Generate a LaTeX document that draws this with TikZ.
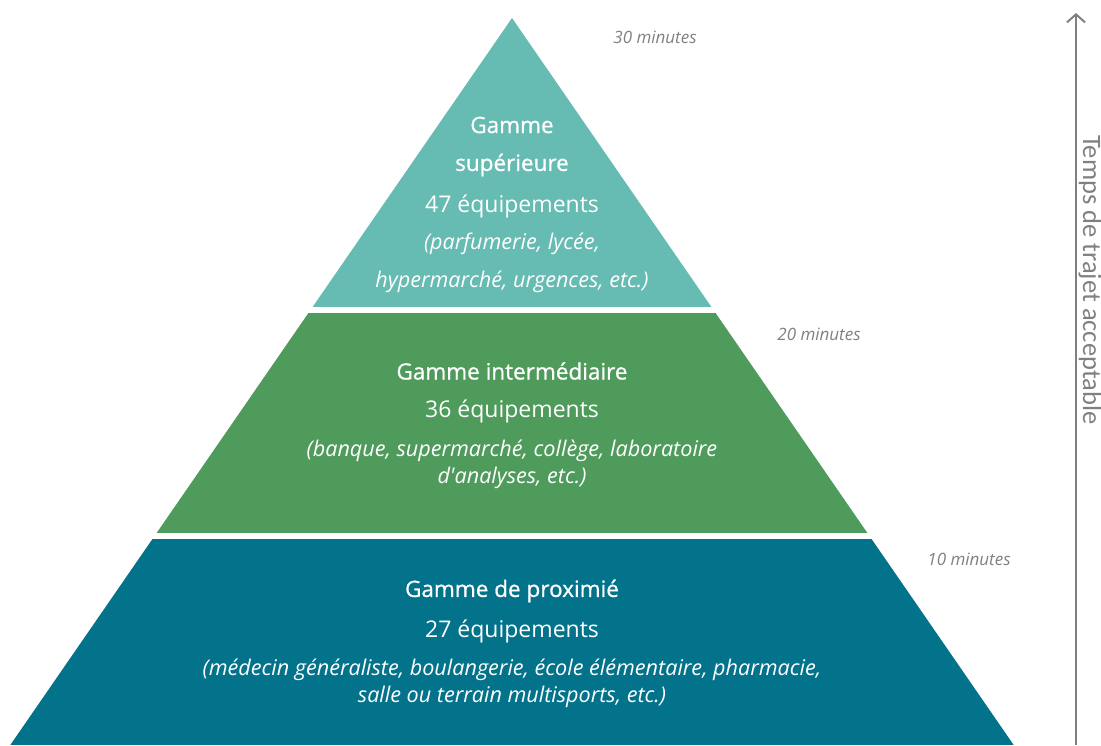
\documentclass[tikz,border=0pt]{standalone}
\usepackage{fontspec}
\setmainfont{Open Sans}
\newfontfamily\headfont[FakeBold=0.8]{Open Sans}
\newfontfamily\axisfont{Carlito}
\usetikzlibrary{arrows.meta}
\definecolor{tierTop}{RGB}{102,187,178}
\definecolor{tierMid}{RGB}{79,155,92}
\definecolor{tierLow}{RGB}{3,114,139}
\definecolor{axisGray}{RGB}{128,128,128}
\begin{document}
\begin{tikzpicture}[x=1pt, y=-1pt,
  head/.style={text=white, font=\headfont\fontsize{22.5}{26}\selectfont},
  count/.style={text=white, font=\fontsize{23}{27}\selectfont},
  items/.style={text=white, align=center, font=\fontsize{21.6}{27}\selectfont\itshape},
  mins/.style={text=axisGray, font=\fontsize{17}{20}\selectfont\itshape}]
  \useasboundingbox (0,0) rectangle (1101,745);
  % pyramid: one triangle, cut in three bands
  \begin{scope}
    \clip (512,18) -- (1013.7,745) -- (10.3,745) -- cycle;
    \fill[tierTop] (0,0) rectangle (1101,307);
    \fill[tierMid] (0,313) rectangle (1101,533);
    \fill[tierLow] (0,539) rectangle (1101,745);
  \end{scope}
  \node[head] (supA) at (512,125) {Gamme};
  \node[head] (supB) at (512,165) {supérieure};
  \node[count] (supN) at (512,206) {47 équipements};
  \node[items] (supL1) at (512,244) {(parfumerie, lycée,};
  \node[items] (supL2) at (512,282) {hypermarché, urgences, etc.)};
  \node[head] (midA) at (512,371) {Gamme intermédiaire};
  \node[count] (midN) at (512,411) {36 équipements};
  \node[items] (midL) at (512,464) {(banque, supermarché, collège, laboratoire\\d\textquotesingle analyses, etc.)};
  \node[head] (lowA) at (512,591) {Gamme de proximié};
  \node[count] (lowN) at (512,631) {27 équipements};
  \node[items] (lowL) at (512,683) {(médecin généraliste, boulangerie, école élémentaire, pharmacie,\\salle ou terrain multisports, etc.)};
  \node[mins] (m30) at (655,37) {30 minutes};
  \node[mins] (m20) at (819,334) {20 minutes};
  \node[mins] (m10) at (969,559) {10 minutes};
  % time axis
  \coordinate (axisLow) at (1076,745);
  \coordinate (axisHigh) at (1076,13);
  \draw[axisGray, line width=2.6pt, -{Straight Barb[length=8pt, width=18pt, line width=2pt]}] (axisLow) -- (axisHigh);
  \node[axisGray, rotate=-90, font=\axisfont\fontsize{26.5}{30}\selectfont] (axisLbl) at (1090,280) {Temps de trajet acceptable};
\end{tikzpicture}
\end{document}
